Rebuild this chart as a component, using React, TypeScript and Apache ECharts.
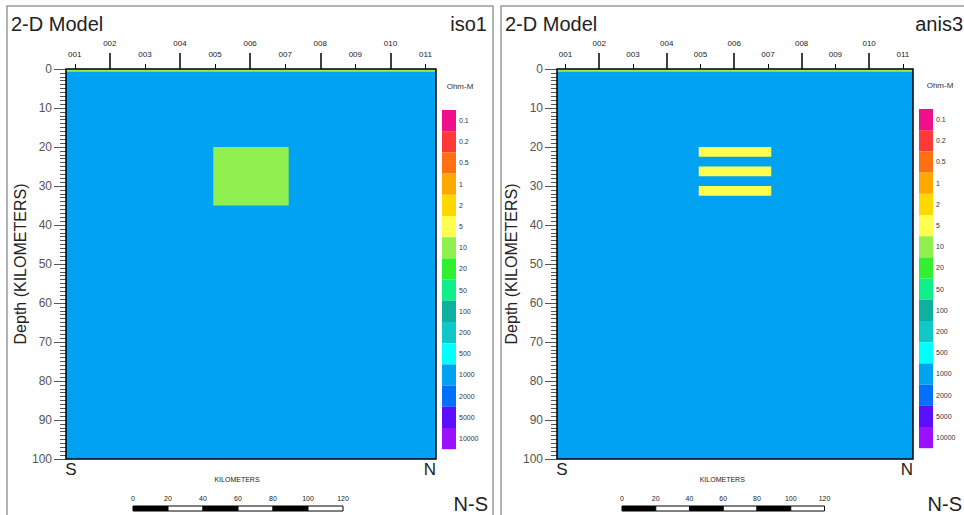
import React, { useEffect, useRef } from 'react';
import * as echarts from 'echarts';

// ---- data ----
const stations = ['001', '002', '003', '004', '005', '006', '007', '008', '009', '010', '011'];
const stationKm = [5, 25, 45, 65, 85, 105, 125, 145, 165, 185, 205];
const profileKm = [0, 211];
const depthKm = [0, 100];

const levelValues = [0.1, 0.2, 0.5, 1, 2, 5, 10, 20, 50, 100, 200, 500, 1000, 2000, 5000, 10000];
const levelLabels = ['0.1', '0.2', '0.5', '1', '2', '5', '10', '20', '50', '100', '200', '500', '1000', '2000', '5000', '10000'];
const levelColors = ['#f0108c', '#ff3838', '#ff7010', '#ffa800', '#ffd800', '#ffff50', '#90f050', '#30f030',
  '#10f08a', '#10b0a0', '#10c8c8', '#00ffff', '#02a2f2', '#0070ff', '#5a10ff', '#9a10ff'];

// model bodies: [x0 km, x1 km, top depth km, bottom depth km, resistivity Ohm-m]
const iso1Bodies = [
  [0, 211, 0, 100, 1000],
  [0, 211, 0, 0.7, 10],
  [84, 127, 20, 35, 10],
];
const anis3Bodies = [
  [0, 211, 0, 100, 1000],
  [0, 211, 0, 0.7, 10],
  [84, 127, 20, 22.5, 5],
  [84, 127, 25, 27.5, 5],
  [84, 127, 30, 32.5, 5],
];
const scaleKm = [0, 20, 40, 60, 80, 100, 120];

const FONT = 'Liberation Sans, Arial, sans-serif';

const panels = [
  {
    name: 'iso1', bodies: iso1Bodies,
    frame: { x: 7, y: 6, w: 486 },
    grid: { left: 66, top: 69, width: 370, height: 390 },
    cbar: { left: 442, top: 110, labelX: 460, labelY: 86 },
    scale: { left: 133, width: 210 },
  },
  {
    name: 'anis3', bodies: anis3Bodies,
    frame: { x: 501, y: 6, w: 475 },
    grid: { left: 557, top: 69, width: 356, height: 390 },
    cbar: { left: 919, top: 109, labelX: 940, labelY: 85 },
    scale: { left: 622, width: 202.5 },
  },
];

function buildOption() {
  const grids: any[] = [];
  const xAxes: any[] = [];
  const yAxes: any[] = [];
  const series: any[] = [];
  const visualMaps: any[] = [];
  const graphics: any[] = [];

  const evenKm = stationKm.filter((_, i) => i % 2 === 1);
  const oddKm = stationKm.filter((_, i) => i % 2 === 0);
  const stationName = (v: number) => {
    const i = stationKm.findIndex((k) => Math.abs(k - v) < 1e-6);
    return i >= 0 ? stations[i] : '';
  };

  panels.forEach((p, pi) => {
    grids.push({ ...p.grid });
    const gi = grids.length - 1;
    const xEven = xAxes.length;
    xAxes.push({
      type: 'value', gridIndex: gi, position: 'top', min: profileKm[0], max: profileKm[1],
      axisLine: { show: false }, splitLine: { show: false },
      axisTick: { show: true, length: 16, customValues: evenKm, lineStyle: { color: '#000', width: 1.5 } },
      axisLabel: { customValues: evenKm, formatter: stationName, margin: 22, fontSize: 8, color: '#222', fontFamily: FONT },
    });
    xAxes.push({
      type: 'value', gridIndex: gi, position: 'top', min: profileKm[0], max: profileKm[1],
      axisLine: { show: false }, splitLine: { show: false },
      axisTick: { show: true, length: 5, customValues: oddKm, lineStyle: { color: '#000', width: 1 } },
      axisLabel: { customValues: oddKm, formatter: stationName, margin: 11, fontSize: 8, color: '#222', fontFamily: FONT },
    });
    const yIdx = yAxes.length;
    yAxes.push({
      type: 'value', gridIndex: gi, inverse: true, min: depthKm[0], max: depthKm[1], interval: 10,
      name: 'Depth (KILOMETERS)', nameLocation: 'middle', nameGap: 29,
      nameTextStyle: { fontSize: 16, color: '#222', fontFamily: FONT },
      axisLine: { show: false }, splitLine: { show: false },
      axisTick: { show: true, length: 12, lineStyle: { color: '#555', width: 1 } },
      minorTick: { show: true, splitNumber: 10, length: 6, lineStyle: { color: '#555', width: 1 } },
      axisLabel: { margin: 14, fontSize: 12, color: '#555', fontFamily: FONT },
    });

    const bodySeriesIndex = series.length;
    series.push({
      type: 'custom', name: p.name, xAxisIndex: xEven, yAxisIndex: yIdx, clip: true,
      encode: { x: [0, 1], y: [2, 3] },
      data: p.bodies,
      renderItem: (params: any, api: any) => {
        const a = api.coord([api.value(0), api.value(2)]);
        const b = api.coord([api.value(1), api.value(3)]);
        return {
          type: 'rect',
          shape: { x: Math.min(a[0], b[0]), y: Math.min(a[1], b[1]), width: Math.abs(b[0] - a[0]), height: Math.abs(b[1] - a[1]) },
          style: { fill: api.visual('color') },
        };
      },
    });
    series.push({
      type: 'custom', xAxisIndex: xEven, yAxisIndex: yIdx, z: 5, silent: true,
      data: [[profileKm[0], depthKm[0]]],
      renderItem: (params: any) => {
        const cs = params.coordSys;
        return { type: 'rect', shape: { x: cs.x, y: cs.y, width: cs.width, height: cs.height }, style: { fill: 'none', stroke: '#000', lineWidth: 1.5 } };
      },
    });

    visualMaps.push({
      type: 'piecewise', seriesIndex: bodySeriesIndex, dimension: 4, orient: 'vertical', inverse: true,
      left: p.cbar.left, top: p.cbar.top, padding: 0, itemWidth: 14, itemHeight: 21.2, itemGap: 0, textGap: 3,
      itemSymbol: 'rect', selectedMode: false, hoverLink: false, align: 'left',
      textStyle: { fontSize: 7, color: '#333', fontFamily: FONT },
      pieces: levelValues.map((v, i) => ({ value: v, label: levelLabels[i], color: levelColors[i] })),
    });

    // scale bar
    grids.push({ left: p.scale.left, width: p.scale.width, top: 506, height: 5 });
    const sg = grids.length - 1;
    const sx = xAxes.length;
    xAxes.push({
      type: 'value', gridIndex: sg, position: 'top', min: scaleKm[0], max: scaleKm[scaleKm.length - 1], interval: 20,
      axisLine: { show: false }, axisTick: { show: false }, splitLine: { show: false },
      axisLabel: { margin: 4, fontSize: 7, color: '#222', fontFamily: FONT },
    });
    const sy = yAxes.length;
    yAxes.push({ type: 'value', gridIndex: sg, min: 0, max: 1, show: false });
    series.push({
      type: 'custom', xAxisIndex: sx, yAxisIndex: sy, silent: true,
      encode: { x: [0, 1] },
      data: scaleKm.slice(0, -1).map((k, i) => [k, scaleKm[i + 1]]),
      renderItem: (params: any, api: any) => {
        const a = api.coord([api.value(0), 1]);
        const b = api.coord([api.value(1), 0]);
        return {
          type: 'rect',
          shape: { x: a[0], y: a[1], width: b[0] - a[0], height: b[1] - a[1] },
          style: { fill: params.dataIndex % 2 === 0 ? '#000' : '#fff', stroke: '#000', lineWidth: 1 },
        };
      },
    });

    // decorations
    const f = p.frame;
    const g = p.grid;
    graphics.push({ type: 'rect', silent: true, shape: { x: f.x, y: f.y, width: f.w, height: 520 }, style: { fill: 'none', stroke: '#9a9a9a', lineWidth: 1.5 } });
    const txt = (text: string, x: number, y: number, size: number, align: string, color = '#222') => ({
      type: 'text', silent: true, x, y,
      style: { text, fontSize: size, fontFamily: FONT, fill: color, textAlign: align, align, textVerticalAlign: 'middle', verticalAlign: 'middle' },
    });
    graphics.push(txt('2-D Model', f.x + 4, 24, 20, 'left'));
    graphics.push(txt(p.name, pi === 0 ? 487 : 963, 24, 20, 'right'));
    graphics.push(txt('S', g.left + 5, 469, 17, 'center'));
    graphics.push(txt('N', g.left + g.width - 6, 469, 17, 'center'));
    graphics.push(txt('KILOMETERS', p.scale.left + p.scale.width / 2 - 1, 479, 7, 'center'));
    graphics.push(txt('N-S', pi === 0 ? 488 : 962, 504, 20, 'right'));
    graphics.push(txt('Ohm-M', p.cbar.labelX, p.cbar.labelY, 8, 'center', '#333'));
  });

  return {
    animation: false,
    backgroundColor: '#fff',
    grid: grids,
    xAxis: xAxes,
    yAxis: yAxes,
    visualMap: visualMaps,
    series,
    graphic: graphics,
  };
}

export default function App() {
  const ref = useRef<HTMLDivElement>(null);
  useEffect(() => {
    const chart = echarts.init(ref.current!, null, { renderer: 'svg' });
    chart.setOption(buildOption() as any);
    return () => chart.dispose();
  }, []);
  return <div ref={ref} style={{ position: 'fixed', left: 0, top: 0, width: 964, height: 515, background: '#fff' }} />;
}
